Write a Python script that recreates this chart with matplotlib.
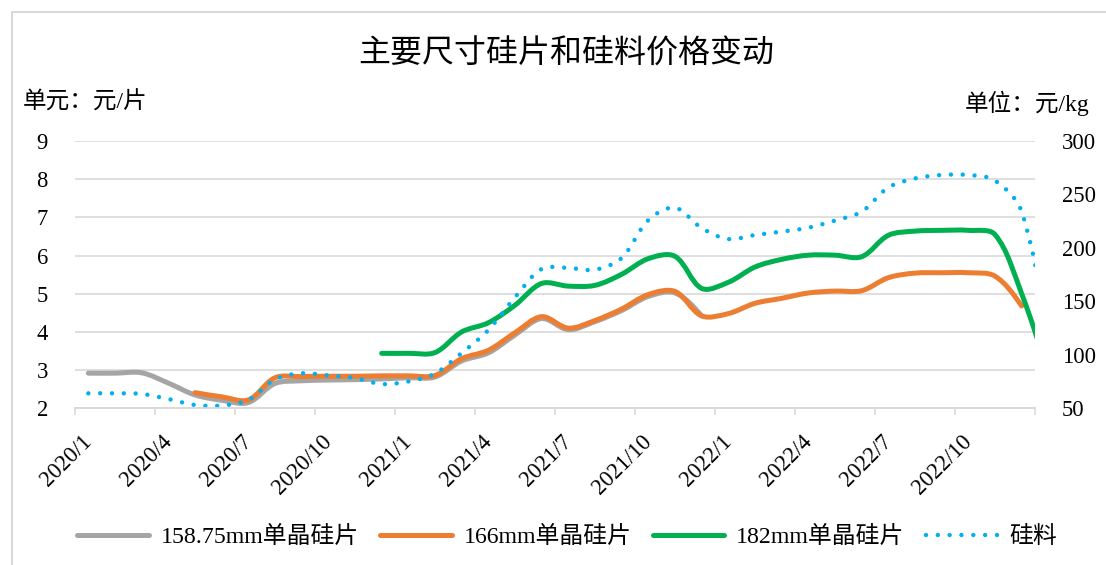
import numpy as np
import matplotlib
matplotlib.use("Agg")
import matplotlib.pyplot as plt
from matplotlib.path import Path
from matplotlib.patches import PathPatch, Rectangle
from matplotlib.lines import Line2D

plt.rcParams['font.family'] = ['Liberation Serif', 'Noto Sans CJK SC']

# ---------------- data ----------------
months = [f"{y}/{m}" for y in (2020, 2021, 2022) for m in range(1, 13)] + ["2023/1"]
tick_labels = months[0:36:3]

nan = np.nan
wafer_158 = [2.92, 2.92, 2.93, 2.66, 2.35, 2.21, 2.15, 2.65, 2.72, 2.74, 2.75, 2.77,
             2.80, 2.82, 3.24, 3.45, 3.92, 4.35, 4.06, 4.27, 4.56, 4.93, 5.02, 4.42,
             nan, nan, nan, nan, nan, nan, nan, nan, nan, nan, nan, nan, nan]
wafer_166 = [nan, nan, nan, nan, 2.41, 2.30, 2.22, 2.80, 2.83, 2.84, 2.84, 2.85,
             2.85, 2.86, 3.30, 3.52, 3.98, 4.40, 4.10, 4.30, 4.60, 4.98, 5.06, 4.42,
             4.48, 4.75, 4.88, 5.02, 5.07, 5.08, 5.42, 5.54, 5.55, 5.55, 5.46, 4.68, nan]
wafer_182 = [nan, nan, nan, nan, nan, nan, nan, nan, nan, nan, nan, 3.44,
             3.44, 3.46, 4.00, 4.24, 4.70, 5.27, 5.20, 5.22, 5.51, 5.92, 5.98, 5.14,
             5.30, 5.70, 5.90, 6.01, 6.01, 5.97, 6.53, 6.64, 6.66, 6.66, 6.55, 5.00, 2.90]
polysilicon = [64.0, 64.0, 63.4, 58.7, 53.1, 52.6, 57.8, 77.0, 82.7, 80.7, 78.3, 72.7,
               75.1, 82.5, 101.7, 123.2, 153.8, 180.3, 181.3, 179.6, 190.6, 226.0, 237.6, 218.6,
               208.3, 212.1, 215.2, 218.9, 225.6, 233.9, 256.5, 265.0, 268.2, 268.2, 263.0, 233.9, 108.0]

series_names = ["158.75mm单晶硅片", "166mm单晶硅片", "182mm单晶硅片", "硅料"]
colors = ["#A5A5A5", "#ED7D31", "#00B050", "#00B0F0"]

# ---------------- helpers ----------------
def smooth_path(ax, xs, ys):
    """Excel-like smoothed Bezier, tangents weighted by on-screen segment lengths."""
    pts = np.column_stack([xs, ys]).astype(float)
    scr = ax.transData.transform(pts)
    n = len(pts)
    d = np.hypot(*np.diff(scr, axis=0).T)
    c_out = [None] * n
    c_in = [None] * n
    for i in range(n):
        if i == 0 or i == n - 1:
            c_out[i] = pts[i]
            c_in[i] = pts[i]
            continue
        T = pts[i + 1] - pts[i - 1]
        tot = d[i - 1] + d[i]
        k = 1.0 / 3.0
        c_out[i] = pts[i] + T * k * d[i] / tot
        c_in[i] = pts[i] - T * k * d[i - 1] / tot
    verts = [pts[0]]
    codes = [Path.MOVETO]
    for i in range(n - 1):
        if i == 0:
            a = pts[0] + (c_in[1] - pts[0]) * 0.5 if n > 2 else pts[0]
        else:
            a = c_out[i]
        if i + 1 == n - 1:
            b = pts[-1] + (c_out[-2] - pts[-1]) * 0.5 if n > 2 else pts[-1]
        else:
            b = c_in[i + 1]
        verts += [a, b, pts[i + 1]]
        codes += [Path.CURVE4] * 3
    return Path(verts, codes)


def draw_smooth(ax, values, **kw):
    v = np.asarray(values, dtype=float)
    x = np.arange(len(v)) + 0.5
    ok = ~np.isnan(v)
    patch = PathPatch(smooth_path(ax, x[ok], v[ok]), fill=False, **kw)
    ax.add_patch(patch)
    return patch


# ---------------- figure ----------------
W, H = 1106, 565
fig = plt.figure(figsize=(W / 100, H / 100), dpi=100)
ax = fig.add_axes([75 / W, 1 - 408.3 / H, (1035 - 75) / W, (408.3 - 141) / H])
ax2 = ax.twinx()

ax.set_xlim(0, 36)
ax.set_ylim(2, 9)
ax2.set_ylim(50, 300)

grid_c = "#D9D9D9"
lw_main = 3.6
dotted = (0, (0.001, 2.66))

draw_smooth(ax, wafer_158, edgecolor=colors[0], linewidth=lw_main, capstyle='round', joinstyle='round')
draw_smooth(ax, wafer_166, edgecolor=colors[1], linewidth=lw_main, capstyle='round', joinstyle='round')
draw_smooth(ax, wafer_182, edgecolor=colors[2], linewidth=lw_main, capstyle='round', joinstyle='round')
draw_smooth(ax2, polysilicon, edgecolor=colors[3], linewidth=3.2, linestyle=dotted, capstyle='round')

ax.set_yticks(range(2, 10))
ax2.set_yticks(range(50, 301, 50))
ax.grid(axis='y', color=grid_c, linewidth=1.2)
ax.set_axisbelow(True)

ax.set_xticks(np.arange(0, 37, 3))
ax.set_xticklabels([])
ax.set_xticks(np.arange(0, 34, 3) + 0.5, minor=True)
ax.set_xticklabels(tick_labels, minor=True, rotation=45, ha='right', va='center',
                   rotation_mode='anchor', fontsize=16.3)
ax.tick_params(axis='x', which='major', length=5, color=grid_c, width=1.2)
ax.tick_params(axis='x', which='minor', length=0, pad=22)
ax.tick_params(axis='y', length=0, pad=19.5, labelsize=16.3)
ax2.tick_params(axis='y', length=0, pad=19.5, labelsize=16.3)

for a in (ax, ax2):
    for s in ('left', 'right', 'top'):
        a.spines[s].set_visible(False)
    a.spines['bottom'].set_color(grid_c)
    a.spines['bottom'].set_linewidth(1.2)

# titles / units
fig.text(566 / W, 1 - 54 / H, "主要尺寸硅片和硅料价格变动", ha='center', va='center',
         fontsize=23, family=['Noto Sans CJK SC'], fontweight='medium')
fig.text(23 / W, 1 - 103 / H, "单元：元/片", ha='left', va='center', fontsize=17)
fig.text(1090 / W, 1 - 103 / H, "单位：元/kg", ha='right', va='center', fontsize=17)

# legend
handles = [
    Line2D([], [], color=colors[0], lw=lw_main, solid_capstyle='round'),
    Line2D([], [], color=colors[1], lw=lw_main, solid_capstyle='round'),
    Line2D([], [], color=colors[2], lw=lw_main, solid_capstyle='round'),
    Line2D([], [], color=colors[3], lw=3.2, linestyle=dotted, dash_capstyle='round'),
]
fig.legend(handles, series_names, loc='center', bbox_to_anchor=(567 / W, 1 - 537 / H),
           ncol=4, frameon=False, fontsize=17.2, handlelength=3.0, handletextpad=0.5,
           columnspacing=0.88)

# chart border
fig.patches.append(Rectangle((12 / W, -0.1), 1.2, 1 - 12 / H + 0.1, transform=fig.transFigure,
                             fill=False, edgecolor=grid_c, linewidth=1.5))

fig.savefig("out.png", dpi=100)
